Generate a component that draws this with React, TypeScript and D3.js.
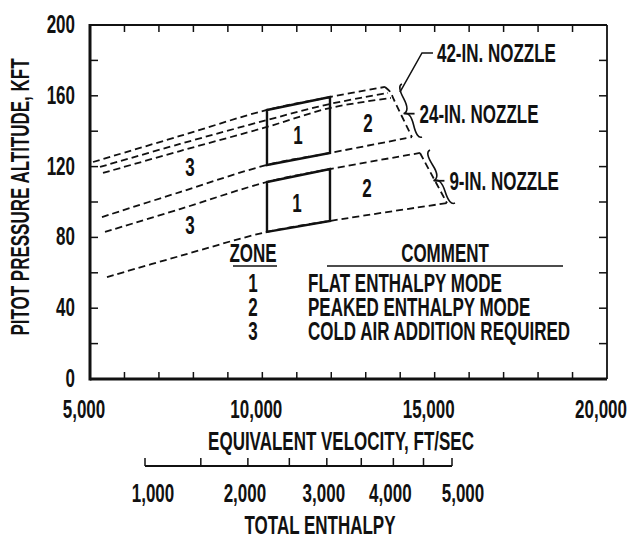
import React from 'react';
import * as d3 from 'd3';

// ---------- data ----------
const velocityLabels = [5000, 10000, 15000, 20000];
const velocityTicks = [6000, 7000, 8000, 9000, 10000, 11000, 12000, 13000, 14000, 15000, 16000, 17000, 18000, 19000];
const altitudeLabels = [0, 40, 80, 120, 160, 200];
const altitudeTicks = [20, 40, 60, 80, 100, 120, 140, 160, 180];
const enthalpyLabels = [1000, 2000, 3000, 4000, 5000];
const enthalpyTicks = [1000, 1500, 2000, 2500, 3000, 3500, 4000, 4500, 5000];

// [equivalent velocity ft/sec, pitot pressure altitude kft]
const nozzle42Top = [[5087, 122.6], [7611, 137.3], [10135, 152.0], [11963, 159.3], [13558, 165.0]];
const nozzle24Top = [[5290, 119.8], [7611, 132.8], [10135, 146.3], [11963, 155.4], [13645, 161.6]];
const nozzleMidTop = [[5377, 116.4], [7611, 128.8], [10135, 142.4], [11963, 153.1], [13732, 158.8]];
const upperBottom = [[5348, 91.5], [7611, 105.6], [10135, 120.9], [11963, 127.7], [14341, 136.7]];
const upperRightEdge = [[13558, 165.0], [13720, 162.0], [13800, 158.5], [14341, 136.7]];
const nozzle9Top = [[5435, 83.1], [7611, 96.0], [10135, 111.3], [11963, 118.6], [14574, 127.7]];
const nozzle9Bottom = [[5493, 57.6], [7611, 69.5], [10135, 83.1], [11963, 89.3], [15357, 99.4]];
const lowerRightEdge = [[14574, 127.7], [15357, 99.4]];

const zone1Upper = [[10135, 152.0], [11963, 159.3], [11963, 127.7], [10135, 120.9]];
const zone1Lower = [[10135, 111.3], [11963, 118.6], [11963, 89.3], [10135, 83.1]];

const zoneMarks = [
  { label: '1', v: 11034, a: 137.9 },
  { label: '2', v: 13065, a: 144.6 },
  { label: '1', v: 11005, a: 99.4 },
  { label: '2', v: 13036, a: 107.9 },
  { label: '3', v: 7901, a: 119.8 },
  { label: '3', v: 7901, a: 87.0 },
];

const legendZones = ['1', '2', '3'];
const legendComments = ['FLAT ENTHALPY MODE', 'PEAKED ENTHALPY MODE', 'COLD AIR ADDITION REQUIRED'];

// annotations (data coordinates)
const leader42 = [[13993, 162.1], [14632, 184.2], [14951, 184.2]];
const brace24 = { bottom: [14632, 136.7], top: [14051, 166.7] };
const brace9 = { bottom: [15589, 99.4], top: [14864, 129.4] };

// ---------- layout ----------
const W = 629;
const H = 540;
const FONT = "'Liberation Sans Narrow', 'Arial Narrow', 'Liberation Sans', Arial, sans-serif";
const SX = 0.68;
const FS = 25;

const x = d3.scaleLinear().domain([5000, 20000]).range([90, 607]);
const y = d3.scaleLinear().domain([0, 200]).range([379, 25]);
const hx = d3.scaleSqrt().domain([1000, 5000]).range([145, 452]);

const curve = d3
  .line<number[]>()
  .x((d) => x(d[0]))
  .y((d) => y(d[1]))
  .curve(d3.curveCatmullRom.alpha(0.5));
const straight = d3
  .line<number[]>()
  .x((d) => x(d[0]))
  .y((d) => y(d[1]));

function T({ x: tx, y: ty, anchor = 'start', rotate = 0, size = FS, children }: any) {
  return (
    <text
      transform={`translate(${tx},${ty}) rotate(${rotate}) scale(${SX},1)`}
      textAnchor={anchor}
      fontSize={size}
      fontWeight="bold"
      fontFamily={FONT}
      fill="#111"
    >
      {children}
    </text>
  );
}

function bracePath(x1: number, y1: number, x2: number, y2: number, w: number, q = 0.6) {
  let dx = x1 - x2;
  let dy = y1 - y2;
  const len = Math.sqrt(dx * dx + dy * dy);
  dx /= len;
  dy /= len;
  const qx1 = x1 + q * w * dy, qy1 = y1 - q * w * dx;
  const qx2 = x1 - 0.25 * len * dx + (1 - q) * w * dy, qy2 = y1 - 0.25 * len * dy - (1 - q) * w * dx;
  const tx1 = x1 - 0.5 * len * dx + w * dy, ty1 = y1 - 0.5 * len * dy - w * dx;
  const qx3 = x2 + q * w * dy, qy3 = y2 - q * w * dx;
  const qx4 = x1 - 0.75 * len * dx + (1 - q) * w * dy, qy4 = y1 - 0.75 * len * dy - (1 - q) * w * dx;
  return {
    d: `M${x1},${y1} Q${qx1},${qy1} ${qx2},${qy2} T${tx1},${ty1} M${x2},${y2} Q${qx3},${qy3} ${qx4},${qy4} T${tx1},${ty1}`,
    tip: [tx1, ty1],
  };
}

function Brace({ b, label, w }: any) {
  const x1 = x(b.top[0]), y1 = y(b.top[1]), x2 = x(b.bottom[0]), y2 = y(b.bottom[1]);
  const br = bracePath(x1, y1, x2, y2, w);
  const [tx, ty] = br.tip;
  return (
    <g>
      <path d={br.d} fill="none" stroke="#111" strokeWidth={1.6} />
      <line x1={tx + 1} y1={ty} x2={tx + 11} y2={ty} stroke="#111" strokeWidth={1.8} />
      <T x={tx + 16} y={ty + 9}>{label}</T>
    </g>
  );
}

export default function App() {
  const fmt = d3.format(',');
  const dash = '7 4';
  return (
    <svg width={W} height={H} style={{ position: 'absolute', left: 0, top: 0, background: '#fff' }}>
      <rect width={W} height={H} fill="#fff" />
      {/* frame */}
      <line x1={x(5000)} y1={y(200)} x2={x(20000)} y2={y(200)} stroke="#111" strokeWidth={1.8} />
      <line x1={x(20000)} y1={y(200)} x2={x(20000)} y2={y(0)} stroke="#111" strokeWidth={1.8} />
      <line x1={x(5000)} y1={y(200) - 1} x2={x(5000)} y2={y(0) + 1.5} stroke="#111" strokeWidth={3} />
      <line x1={x(5000)} y1={y(0)} x2={x(20000)} y2={y(0)} stroke="#111" strokeWidth={3} />

      {/* ticks */}
      {velocityTicks.map((v) => (
        <g key={'vt' + v}>
          <line x1={x(v)} x2={x(v)} y1={y(0)} y2={y(0) - 7} stroke="#111" strokeWidth={1.5} />
          <line x1={x(v)} x2={x(v)} y1={y(200)} y2={y(200) + 7} stroke="#111" strokeWidth={1.5} />
        </g>
      ))}
      {altitudeTicks.map((a) => (
        <g key={'at' + a}>
          <line x1={x(5000)} x2={x(5000) + 8} y1={y(a)} y2={y(a)} stroke="#111" strokeWidth={1.5} />
          <line x1={x(20000)} x2={x(20000) - 8} y1={y(a)} y2={y(a)} stroke="#111" strokeWidth={1.5} />
        </g>
      ))}

      {/* tick labels */}
      {altitudeLabels.map((a) => (
        <T key={'al' + a} x={75} y={y(a) + 8} anchor="end">
          {a}
        </T>
      ))}
      {velocityLabels.map((v) => (
        <T key={'vl' + v} x={x(v) - 6} y={418} anchor="middle">
          {fmt(v)}
        </T>
      ))}

      {/* axis titles */}
      <T x={29} y={197} anchor="middle" rotate={-90}>
        PITOT PRESSURE ALTITUDE, KFT
      </T>
      <T x={341} y={450} anchor="middle">
        EQUIVALENT VELOCITY, FT/SEC
      </T>

      {/* secondary enthalpy axis */}
      <line x1={hx(1000)} x2={hx(5000)} y1={466} y2={466} stroke="#111" strokeWidth={2.2} />
      {enthalpyTicks.map((e) => (
        <line key={'et' + e} x1={hx(e)} x2={hx(e)} y1={466} y2={458} stroke="#111" strokeWidth={1.5} />
      ))}
      {enthalpyLabels.map((e) => (
        <T key={'el' + e} x={hx(e) + (e === 1000 ? 8 : e === 5000 ? 11 : -3)} y={502} anchor="middle">
          {fmt(e)}
        </T>
      ))}
      <T x={320} y={534} anchor="middle">
        TOTAL ENTHALPY
      </T>

      {/* envelopes */}
      <g fill="none" stroke="#111" strokeWidth={1.8} strokeDasharray={dash}>
        <path d={curve(nozzle42Top) || ''} />
        <path d={curve(nozzle24Top) || ''} />
        <path d={curve(nozzleMidTop) || ''} />
        <path d={curve(upperBottom) || ''} />
        <path d={curve(upperRightEdge) || ''} />
        <path d={curve(nozzle9Top) || ''} />
        <path d={curve(nozzle9Bottom) || ''} />
        <path d={straight(lowerRightEdge) || ''} />
      </g>

      {/* zone 1 boxes */}
      <g fill="none" stroke="#111" strokeWidth={2.4}>
        <path d={(straight(zone1Upper) || '') + 'Z'} />
        <path d={(straight(zone1Lower) || '') + 'Z'} />
      </g>

      {zoneMarks.map((z, i) => (
        <T key={'z' + i} x={x(z.v)} y={y(z.a) + 9} anchor="middle">
          {z.label}
        </T>
      ))}

      {/* nozzle annotations */}
      <path d={straight(leader42) || ''} fill="none" stroke="#111" strokeWidth={1.5} />
      <T x={x(leader42[2][0]) + 4} y={y(leader42[2][1]) + 9}>
        42-IN. NOZZLE
      </T>
      <Brace b={brace24} label="24-IN. NOZZLE" w={9} />
      <Brace b={brace9} label="9-IN. NOZZLE" w={10} />

      {/* legend */}
      <T x={253} y={262} anchor="middle">ZONE</T>
      <line x1={233} x2={277} y1={266} y2={266} stroke="#111" strokeWidth={1.6} />
      <T x={445} y={262} anchor="middle">COMMENT</T>
      <line x1={327} x2={563} y1={266} y2={266} stroke="#111" strokeWidth={1.6} />
      {legendZones.map((z, i) => (
        <T key={'lz' + i} x={253} y={292 + i * 24} anchor="middle">
          {z}
        </T>
      ))}
      {legendComments.map((c, i) => (
        <T key={'lc' + i} x={308} y={292 + i * 24}>
          {c}
        </T>
      ))}
    </svg>
  );
}
